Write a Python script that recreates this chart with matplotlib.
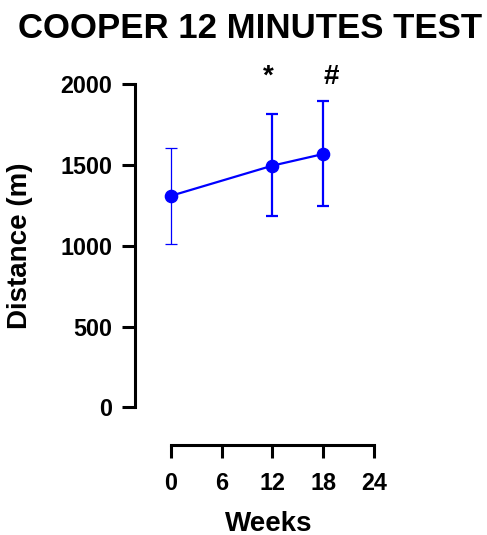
import numpy as np
import matplotlib
matplotlib.use("Agg")
import matplotlib.pyplot as plt

# 数据
weeks = [0, 12, 18]
distance = [1308, 1495, 1567]
err_low = [1011, 1184, 1248]
err_high = [1602, 1813, 1895]
x_ticks = [0, 6, 12, 18, 24]
y_ticks = [0, 500, 1000, 1500, 2000]
marks = [(12, '*'), (18, '#')]

blue = '#0000FF'
plt.rcParams['font.family'] = ['Liberation Sans', 'DejaVu Sans']
plt.rcParams['font.weight'] = 'bold'

fig = plt.figure(figsize=(4.87, 5.35), dpi=100)
ax = fig.add_axes([0.2772, 0.1682, 0.5257, 0.7202])

# 误差棒: 第一个点较细
for i, (x, y, lo, hi) in enumerate(zip(weeks, distance, err_low, err_high)):
    lw = 0.9 if i == 0 else 1.6
    ax.errorbar([x], [y], yerr=[[y - lo], [hi - y]], fmt='none', ecolor=blue,
                elinewidth=lw, capsize=4.4, capthick=lw, zorder=2)
ax.plot(weeks, distance, color=blue, lw=1.6, marker='o', markersize=8.8, zorder=3)

# 显著性标记
for x, s in marks:
    dx = -0.5 if s == '*' else 1.0
    ax.text(x + dx, 2000, s, ha='center', va='baseline', fontsize=20,
            fontweight='bold', clip_on=False)

ax.set_xlim(-4.21, 26)
ax.set_ylim(-232, 2150)
ax.set_xticks(x_ticks)
ax.set_yticks(y_ticks)

for side in ['top', 'right']:
    ax.spines[side].set_visible(False)
ax.spines['left'].set_bounds(0, 2000)
ax.spines['bottom'].set_bounds(0, 24)
for side in ['left', 'bottom']:
    ax.spines[side].set_linewidth(2.2)
    ax.spines[side].set_capstyle('projecting')

ax.tick_params(axis='both', width=2.2, length=9.4, labelsize=16.8)
ax.tick_params(axis='y', pad=7)
ax.tick_params(axis='x', pad=10)
for lab in ax.get_xticklabels() + ax.get_yticklabels():
    lab.set_fontweight('bold')

ax.set_xlabel('Weeks', fontsize=20, fontweight='bold')
ax.set_ylabel('Distance (m)', fontsize=20, fontweight='bold')
ax.xaxis.set_label_coords(0.521, -0.17)
ax.yaxis.set_label_coords(-0.397, 0.517)

fig.text(0.514, 0.947, 'COOPER 12 MINUTES TEST', ha='center', va='center',
         fontsize=25, fontweight='bold')

fig.savefig('out.png', dpi=100)
